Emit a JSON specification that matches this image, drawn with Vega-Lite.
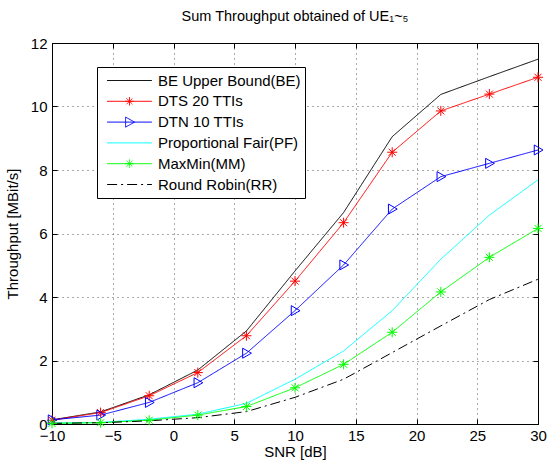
{
  "$schema": "https://vega.github.io/schema/vega-lite/v6.json",
  "width": 486,
  "height": 381,
  "autosize": "none",
  "padding": {"left": 52, "top": 43, "right": 9, "bottom": 41},
  "background": "white",
  "config": {
    "font": "Liberation Sans",
    "view": {"stroke": null},
    "axis": {
      "labelFont": "Liberation Sans",
      "titleFont": "Liberation Sans",
      "labelFontSize": 15,
      "titleFontSize": 15,
      "labelColor": "#000",
      "titleColor": "#000",
      "titleFontWeight": "normal",
      "domainColor": "#000",
      "tickColor": "#000",
      "gridColor": "#555",
      "gridDash": [1, 4],
      "gridOpacity": 1
    }
  },
  "title": {
    "text": "Sum Throughput obtained of UE₁~₅",
    "fontSize": 14.5,
    "fontWeight": "normal",
    "font": "Liberation Sans",
    "color": "#000",
    "anchor": "middle",
    "offset": 12
  },
  "data": {
    "values": [
      {"snr": -10, "series": "BE Upper Bound(BE)", "v": 0.13},
      {"snr": -6, "series": "BE Upper Bound(BE)", "v": 0.38},
      {"snr": -2, "series": "BE Upper Bound(BE)", "v": 0.92},
      {"snr": 2, "series": "BE Upper Bound(BE)", "v": 1.7},
      {"snr": 6, "series": "BE Upper Bound(BE)", "v": 2.93},
      {"snr": 10, "series": "BE Upper Bound(BE)", "v": 4.82},
      {"snr": 14, "series": "BE Upper Bound(BE)", "v": 6.66},
      {"snr": 18, "series": "BE Upper Bound(BE)", "v": 9.05},
      {"snr": 22, "series": "BE Upper Bound(BE)", "v": 10.38},
      {"snr": 26, "series": "BE Upper Bound(BE)", "v": 10.94},
      {"snr": 30, "series": "BE Upper Bound(BE)", "v": 11.49},
      {"snr": -10, "series": "DTS 20 TTIs", "v": 0.12},
      {"snr": -6, "series": "DTS 20 TTIs", "v": 0.36},
      {"snr": -2, "series": "DTS 20 TTIs", "v": 0.89},
      {"snr": 2, "series": "DTS 20 TTIs", "v": 1.62},
      {"snr": 6, "series": "DTS 20 TTIs", "v": 2.78},
      {"snr": 10, "series": "DTS 20 TTIs", "v": 4.5},
      {"snr": 14, "series": "DTS 20 TTIs", "v": 6.34},
      {"snr": 18, "series": "DTS 20 TTIs", "v": 8.56},
      {"snr": 22, "series": "DTS 20 TTIs", "v": 9.86},
      {"snr": 26, "series": "DTS 20 TTIs", "v": 10.39},
      {"snr": 30, "series": "DTS 20 TTIs", "v": 10.92},
      {"snr": -10, "series": "DTN 10 TTIs", "v": 0.13},
      {"snr": -6, "series": "DTN 10 TTIs", "v": 0.28},
      {"snr": -2, "series": "DTN 10 TTIs", "v": 0.68},
      {"snr": 2, "series": "DTN 10 TTIs", "v": 1.3},
      {"snr": 6, "series": "DTN 10 TTIs", "v": 2.23},
      {"snr": 10, "series": "DTN 10 TTIs", "v": 3.57},
      {"snr": 14, "series": "DTN 10 TTIs", "v": 5.01},
      {"snr": 18, "series": "DTN 10 TTIs", "v": 6.77},
      {"snr": 22, "series": "DTN 10 TTIs", "v": 7.79},
      {"snr": 26, "series": "DTN 10 TTIs", "v": 8.21},
      {"snr": 30, "series": "DTN 10 TTIs", "v": 8.63},
      {"snr": -10, "series": "Proportional Fair(PF)", "v": 0.03},
      {"snr": -6, "series": "Proportional Fair(PF)", "v": 0.05},
      {"snr": -2, "series": "Proportional Fair(PF)", "v": 0.15},
      {"snr": 2, "series": "Proportional Fair(PF)", "v": 0.31},
      {"snr": 6, "series": "Proportional Fair(PF)", "v": 0.65},
      {"snr": 10, "series": "Proportional Fair(PF)", "v": 1.41},
      {"snr": 14, "series": "Proportional Fair(PF)", "v": 2.3},
      {"snr": 18, "series": "Proportional Fair(PF)", "v": 3.57},
      {"snr": 22, "series": "Proportional Fair(PF)", "v": 5.19},
      {"snr": 26, "series": "Proportional Fair(PF)", "v": 6.58},
      {"snr": 30, "series": "Proportional Fair(PF)", "v": 7.69},
      {"snr": -10, "series": "MaxMin(MM)", "v": 0.02},
      {"snr": -6, "series": "MaxMin(MM)", "v": 0.04},
      {"snr": -2, "series": "MaxMin(MM)", "v": 0.12},
      {"snr": 2, "series": "MaxMin(MM)", "v": 0.28},
      {"snr": 6, "series": "MaxMin(MM)", "v": 0.55},
      {"snr": 10, "series": "MaxMin(MM)", "v": 1.14},
      {"snr": 14, "series": "MaxMin(MM)", "v": 1.88},
      {"snr": 18, "series": "MaxMin(MM)", "v": 2.89},
      {"snr": 22, "series": "MaxMin(MM)", "v": 4.16},
      {"snr": 26, "series": "MaxMin(MM)", "v": 5.25},
      {"snr": 30, "series": "MaxMin(MM)", "v": 6.16},
      {"snr": -10, "series": "Round Robin(RR)", "v": 0.02},
      {"snr": -6, "series": "Round Robin(RR)", "v": 0.04},
      {"snr": -2, "series": "Round Robin(RR)", "v": 0.1},
      {"snr": 2, "series": "Round Robin(RR)", "v": 0.2},
      {"snr": 6, "series": "Round Robin(RR)", "v": 0.39},
      {"snr": 10, "series": "Round Robin(RR)", "v": 0.84},
      {"snr": 14, "series": "Round Robin(RR)", "v": 1.41},
      {"snr": 18, "series": "Round Robin(RR)", "v": 2.25},
      {"snr": 22, "series": "Round Robin(RR)", "v": 3.09},
      {"snr": 26, "series": "Round Robin(RR)", "v": 3.92},
      {"snr": 30, "series": "Round Robin(RR)", "v": 4.56}
    ]
  },
  "layer": [
    {
      "mark": {"type": "line", "strokeWidth": 1, "clip": true},
      "encoding": {
        "x": {
          "field": "snr", "type": "quantitative",
          "scale": {"domain": [-10, 30], "nice": false},
          "axis": {"orient": "bottom", "title": "SNR [dB]", "values": [-10, -5, 0, 5, 10, 15, 20, 25, 30], "tickSize": -5, "labelPadding": 9, "titlePadding": 1, "grid": true, "labelFlush": false}
        },
        "y": {
          "field": "v", "type": "quantitative",
          "scale": {"domain": [0, 12], "nice": false},
          "axis": {"orient": "left", "title": "Throughput [MBit/s]", "values": [0, 2, 4, 6, 8, 10, 12], "tickSize": -5, "labelPadding": 10, "titlePadding": 10, "grid": true}
        },
        "color": {
          "field": "series", "type": "nominal",
          "scale": {
            "domain": ["BE Upper Bound(BE)", "DTS 20 TTIs", "DTN 10 TTIs", "Proportional Fair(PF)", "MaxMin(MM)", "Round Robin(RR)"],
            "range": ["#000000", "#ff0000", "#0000ff", "#00ffff", "#00ff00", "#000000"]
          },
          "legend": {
            "title": null,
            "orient": "none",
            "legendX": 45,
            "legendY": 24,
            "fillColor": "white",
            "strokeColor": "black",
            "padding": 4,
            "symbolSize": 3136,
            "symbolStrokeWidth": 1,
            "clipHeight": 19,
            "rowPadding": 1.8,
            "labelOffset": 0,
            "labelFont": "Liberation Sans",
            "labelFontSize": 15,
            "labelColor": "#000",
            "labelLimit": 300,
            "encode": {
              "symbols": {
                "update": {
                  "shape": {"signal": "(datum.value === 'DTS 20 TTIs' || datum.value === 'MaxMin(MM)') ? 'M-0.8,0L0.8,0M0,-0.15L0,0.15M-0.15,0L0.15,0M-0.106,-0.106L0.106,0.106M-0.106,0.106L0.106,-0.106' : (datum.value === 'DTN 10 TTIs' ? 'M-0.8,0L0.8,0M-0.14,-0.18L0.18,0L-0.14,0.18Z' : 'M-0.8,0L0.8,0')"},
                  "fill": {"value": "transparent"}
                }
              }
            }
          }
        },
        "strokeDash": {
          "field": "series", "type": "nominal",
          "scale": {
            "domain": ["BE Upper Bound(BE)", "DTS 20 TTIs", "DTN 10 TTIs", "Proportional Fair(PF)", "MaxMin(MM)", "Round Robin(RR)"],
            "range": [[1, 0], [1, 0], [1, 0], [1, 0], [1, 0], [10, 4, 2, 4]]
          }
        }
      }
    },
    {
      "transform": [{"filter": "datum.series === 'DTS 20 TTIs' || datum.series === 'DTN 10 TTIs' || datum.series === 'MaxMin(MM)'"}],
      "mark": {"type": "point", "filled": false, "strokeWidth": 1, "opacity": 1, "clip": false},
      "encoding": {
        "x": {
          "field": "snr", "type": "quantitative",
          "axis": {"orient": "top", "title": null, "labels": false, "tickSize": -5, "grid": false, "values": [-10, -5, 0, 5, 10, 15, 20, 25, 30]}
        },
        "y": {
          "field": "v", "type": "quantitative",
          "axis": {"orient": "right", "title": null, "labels": false, "tickSize": -5, "grid": false, "values": [0, 2, 4, 6, 8, 10, 12]}
        },
        "color": {"field": "series", "type": "nominal", "legend": null},
        "shape": {
          "field": "series", "type": "nominal",
          "scale": {
            "domain": ["DTS 20 TTIs", "DTN 10 TTIs", "MaxMin(MM)"],
            "range": [
              "M0,-1L0,1M-1,0L1,0M-0.7,-0.7L0.7,0.7M-0.7,0.7L0.7,-0.7",
              "M-0.75,-1L1,0L-0.75,1Z",
              "M0,-1L0,1M-1,0L1,0M-0.7,-0.7L0.7,0.7M-0.7,0.7L0.7,-0.7"
            ]
          },
          "legend": null
        },
        "size": {"value": 100}
      }
    }
  ],
  "resolve": {"scale": {"x": "shared", "y": "shared"}}
}
